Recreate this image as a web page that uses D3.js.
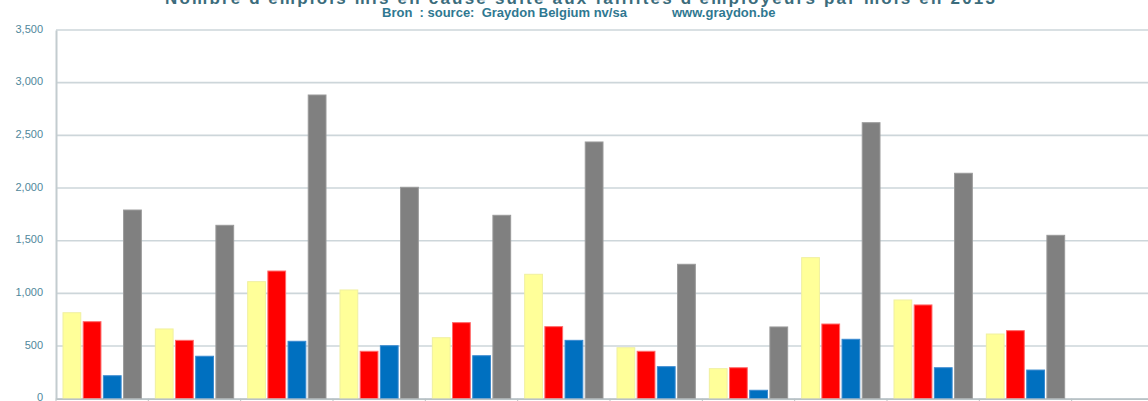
<!DOCTYPE html>
<html lang="fr">
<head>
<meta charset="UTF-8">
<title>Emplois faillites 2013</title>
<script src="https://d3js.org/d3.v7.min.js"></script>
<style>
  html, body { margin: 0; padding: 0; background: #fff; }
  svg { display: block; font-family: "Liberation Sans", Arial, sans-serif; }
  .grid line { stroke: #cdd6da; stroke-width: 1.6; }
  .yaxis text { fill: #50879b; font-size: 11px; }
</style>
</head>
<body>
<svg id="chart" width="1148" height="401"></svg>
<script>
// data
var months = ["janv", "févr", "mars", "avr", "mai", "juin", "juil", "août", "sept", "oct", "nov", "déc"];
var series = ["Vlaanderen", "Wallonie", "Bruxelles", "Total"];
var vlaanderen = [816, 662, 1111, 1032, 579, 1181, 484, 285, 1339, 937, 614, null];
var wallonie   = [731, 554, 1212, 450, 722, 684, 450, 294, 709, 890, 646, null];
var bruxelles  = [218, 403, 545, 503, 408, 554, 304, 80, 564, 294, 272, null];
var total      = [1791, 1646, 2883, 2007, 1741, 2437, 1276, 681, 2620, 2140, 1551, null];
var yTicks = [0, 500, 1000, 1500, 2000, 2500, 3000, 3500];

var colors = ["#ffff99", "#ff0000", "#0070c0", "#808080"];
var edges  = ["#f0f0a0", "#ff6a6a", "#3a8ad0", "#9a9a9a"];
var values = [vlaanderen, wallonie, bruxelles, total];

var svg = d3.select("#chart");
// note: "top" is window.top, so use other names
var plotL = 56, plotR = 1164, plotT = 30, plotB = 398.7;

var x = d3.scaleBand().domain(months).range([plotL, plotR]).padding(0);
var inner = d3.scaleBand().domain(series).range([7, x.bandwidth() - 7]).paddingInner(0.12);
var y = d3.scaleLinear().domain([0, 3500]).range([plotB, plotT]);

// titles (top one is cut by the frame)
svg.append("text")
  .attr("x", 165).attr("y", 3.5)
  .attr("font-size", 17).attr("font-weight", "bold")
  .attr("fill", "#3b6c7c")
  .attr("textLength", 830).attr("lengthAdjust", "spacing")
  .text("Nombre d'emplois mis en cause suite aux faillites d'employeurs par mois en 2013");

svg.append("text")
  .attr("x", 382).attr("y", 17)
  .attr("font-size", 13).attr("font-weight", "bold")
  .attr("fill", "#2f7891")
  .attr("xml:space", "preserve")
  .text("Bron  : source:  Graydon Belgium nv/sa");
svg.append("text")
  .attr("x", 672).attr("y", 17)
  .attr("font-size", 13).attr("font-weight", "bold")
  .attr("fill", "#2f7891")
  .text("www.graydon.be");

// gridlines
svg.append("g").attr("class", "grid")
  .selectAll("line").data(yTicks).join("line")
  .attr("x1", plotL).attr("x2", plotR)
  .attr("y1", d => y(d)).attr("y2", d => y(d));

// y axis
var yAxis = svg.append("g").attr("class", "yaxis")
  .attr("transform", "translate(" + plotL + ",0)")
  .call(d3.axisLeft(y).tickValues(yTicks).tickFormat(d3.format(",")).tickSize(0).tickPadding(13));
yAxis.select(".domain").attr("stroke", "#c3cccf").attr("stroke-width", 2);
yAxis.selectAll("text").attr("dy", "0.2em");

// bars
var groups = svg.append("g").selectAll("g").data(months).join("g")
  .attr("transform", d => "translate(" + x(d) + ",0)");

groups.selectAll("rect")
  .data((m, i) => series.map((s, k) => ({ s: s, k: k, v: values[k][i] })).filter(d => d.v != null))
  .join("rect")
  .attr("x", d => inner(d.s))
  .attr("width", inner.bandwidth())
  .attr("y", d => y(d.v))
  .attr("height", d => y(0) - y(d.v))
  .attr("fill", d => colors[d.k])
  .attr("stroke", d => edges[d.k])
  .attr("stroke-width", 1);

// x axis (labels fall below the frame)
var xAxis = svg.append("g")
  .attr("transform", "translate(0," + plotB + ")")
  .call(d3.axisBottom(x).tickSize(0).tickPadding(8));
xAxis.select(".domain").attr("stroke", "#b9c2c5").attr("stroke-width", 1.5);
xAxis.selectAll("text").attr("fill", "#4f8aa0");
svg.append("g").selectAll("line").data(months).join("line")
  .attr("x1", d => x(d)).attr("x2", d => x(d))
  .attr("y1", plotB).attr("y2", plotB + 4)
  .attr("stroke", "#b9c2c5");
</script>
</body>
</html>
